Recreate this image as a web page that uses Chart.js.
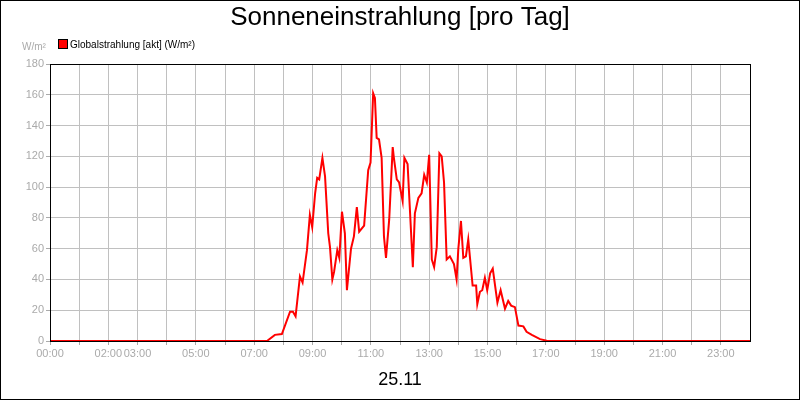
<!DOCTYPE html>
<html><head><meta charset="utf-8">
<script src="https://cdn.jsdelivr.net/npm/chart.js@4"></script>
<style>html,body{margin:0;padding:0;background:#fff}#w{width:800px;height:400px;position:relative}</style>
</head><body><div id="w"><canvas id="c"></canvas></div>
<script>
const hours = [0,6.86,7.44,7.71,7.95,8.23,8.33,8.42,8.57,8.66,8.81,8.91,8.99,9.09,9.16,9.23,9.34,9.43,9.54,9.60,9.68,9.74,9.85,9.92,10.01,10.11,10.18,10.32,10.42,10.52,10.60,10.77,10.91,10.99,11.08,11.14,11.20,11.28,11.37,11.45,11.52,11.63,11.75,11.79,11.89,11.97,12.09,12.15,12.26,12.44,12.51,12.63,12.74,12.83,12.92,13.00,13.09,13.17,13.26,13.35,13.43,13.51,13.60,13.71,13.85,13.94,14.00,14.09,14.17,14.26,14.34,14.49,14.61,14.65,14.74,14.82,14.91,14.99,15.09,15.18,15.34,15.45,15.60,15.71,15.81,15.94,16.06,16.23,16.34,16.52,16.80,17.03,24];
const values = [0,0,0,4,4.5,19,19,16,42,38,59,82,74,96,106,105,119,107,70,61,40,45,59,54,84,70,33,60,68,87,71,75,111,116,161,158,132,131,119,68,54,79,126,119,105,103,91,119,115,48,83,93,96,108,103,121,53,48,61,122,120,103,53,55,50,40,60,78,54,55,66,36,36,24,32,33,41,33,44,47,25,33,21,26,23,22,10,9.5,6,4,1.2,0.2,0,0];
const labelHours = [0,2,3,5,7,9,11,13,15,17,19,21,23];
const titleText = "Sonneneinstrahlung [pro Tag]";
const seriesName = "Globalstrahlung [akt] (W/m²)";
const unitText = "W/m²";
const dateText = "25.11";
const F = "'Liberation Sans', Arial, sans-serif";

const deco = {
  id:'deco',
  afterDraw(ch){
    const c = ch.ctx, a = ch.chartArea;
    c.save();
    c.strokeStyle='#000'; c.lineWidth=1;
    c.strokeRect(a.left+0.5,a.top+0.5,a.right-a.left,a.bottom-a.top);
    c.strokeRect(0.5,0.5,799,399);
    c.fillStyle='#000'; c.textAlign='center'; c.textBaseline='middle';
    c.font='26px '+F; c.fillText(titleText,400,18);
    c.font='18px '+F; c.fillText(dateText,400,380);
    c.fillStyle='#ff0000'; c.fillRect(59,40,8,8);
    c.strokeStyle='#000'; c.strokeRect(58.5,39.5,9,9);
    c.fillStyle='#000'; c.textAlign='left'; c.font='10px '+F;
    c.fillText(seriesName,70,45);
    c.fillStyle='#aaa'; c.fillText(unitText,22,47);
    c.restore();
  }
};

new Chart(document.getElementById('c'),{
  type:'line',
  data:{datasets:[{data:hours.map((h,i)=>({x:h,y:values[i]})),borderColor:'#ff0000',borderWidth:2,pointRadius:0,tension:0,fill:false}]},
  options:{
    responsive:true,maintainAspectRatio:false,animation:false,
    layout:{padding:{top:64,right:50,left:0,bottom:0}},
    plugins:{legend:{display:false},tooltip:{enabled:false}},
    scales:{
      x:{type:'linear',min:0,max:24,
        afterFit(s){s.height=59;},
        afterBuildTicks(s){s.ticks=[];for(let h=0;h<24;h++)s.ticks.push({value:h});},
        ticks:{autoSkip:false,maxRotation:0,color:'#aaa',font:{size:11,family:F},padding:2,
          callback:(v)=>labelHours.includes(v)?String(v).padStart(2,'0')+':00':''},
        grid:{color:'#c0c0c0',tickLength:4,tickColor:'#aaa'},border:{color:'#000'}},
      y:{min:0,max:180,
        afterFit(s){s.width=50;},
        ticks:{stepSize:20,color:'#aaa',font:{size:11,family:F},padding:2},
        grid:{color:'#c0c0c0',tickLength:4,tickColor:'#aaa'},border:{color:'#000'}}
    }
  },
  plugins:[deco]
});
</script></body></html>
